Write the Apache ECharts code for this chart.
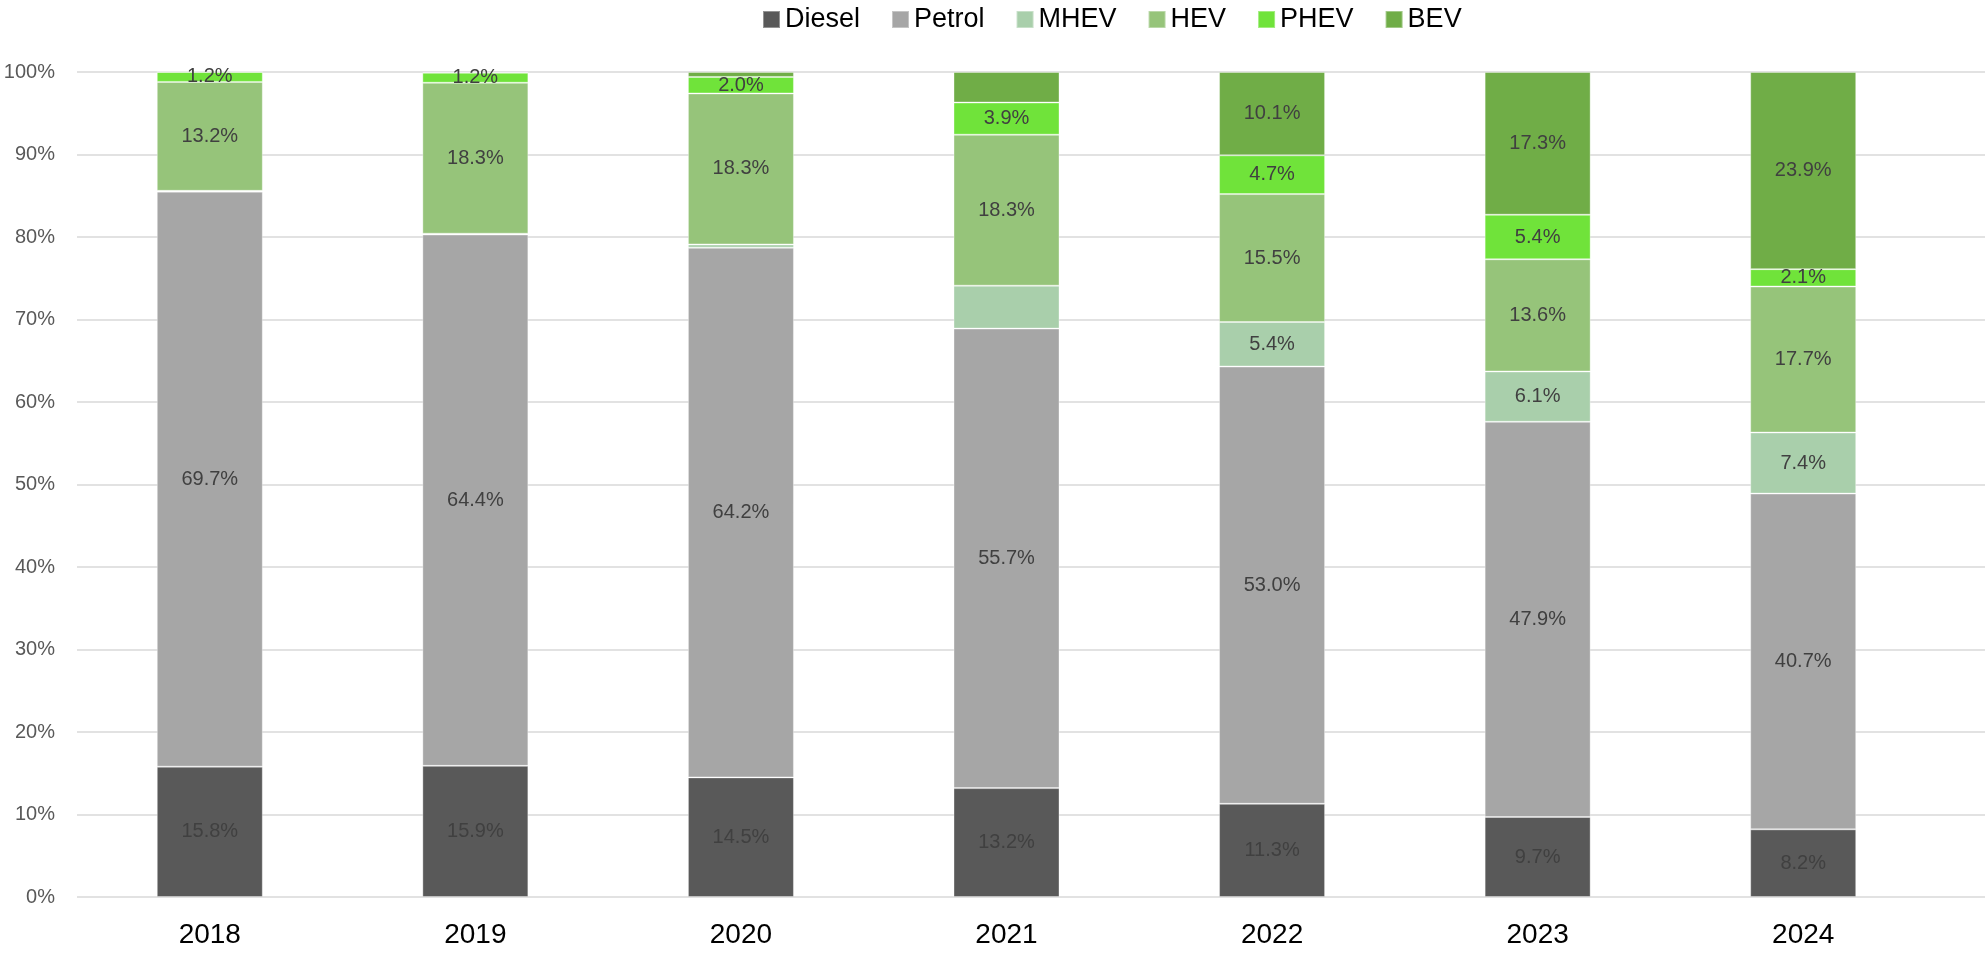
<!DOCTYPE html>
<html>
<head>
<meta charset="utf-8">
<script src="https://cdn.jsdelivr.net/npm/echarts@6/dist/echarts.min.js"></script>
<style>
  html, body { margin: 0; padding: 0; background: #fff; }
  #container { width: 1988px; height: 955px; }
</style>
</head>
<body>
<div id="container"></div>
<script>
  // data (share of registrations, %)
  var years = ['2018', '2019', '2020', '2021', '2022', '2023', '2024'];
  var diesel = [15.8, 15.9, 14.5, 13.2, 11.3, 9.7, 8.2];
  var petrol = [69.7, 64.4, 64.2, 55.7, 53.0, 47.9, 40.7];
  var mhev   = [0.1, 0.1, 0.4, 5.2, 5.4, 6.1, 7.4];
  var hev    = [13.2, 18.3, 18.3, 18.3, 15.5, 13.6, 17.7];
  var phev   = [1.2, 1.2, 2.0, 3.9, 4.7, 5.4, 2.1];
  var bev    = [0.0, 0.1, 0.6, 3.7, 10.1, 17.3, 23.9];
  var yTicks = [0, 10, 20, 30, 40, 50, 60, 70, 80, 90, 100];

  // labels the original leaves off
  var noLabel = { MHEV: [0, 1, 2, 3], BEV: [0, 1, 2, 3] };

  var dom = document.getElementById("container");
  var myChart = echarts.init(dom);
  var font = 'Liberation Sans';

  function makeSeries(name, values, color) {
    var hide = noLabel[name] || [];
    return {
      name: name,
      type: 'bar',
      stack: 'total',
      xAxisIndex: 0,
      yAxisIndex: 0,
      barWidth: 106,
      itemStyle: { color: color, borderColor: 'rgba(255,255,255,0.35)', borderWidth: 1 },
      label: {
        show: true,
        position: 'inside',
        color: '#404040',
        fontFamily: font,
        fontSize: 20,
        formatter: function (p) { return p.value.toFixed(1) + '%'; }
      },
      data: values.map(function (v, i) {
        return hide.indexOf(i) >= 0 ? { value: v, label: { show: false } } : v;
      })
    };
  }

  option = {
    animation: false,
    backgroundColor: '#fff',
    legend: {
      left: 757,
      top: 1,
      itemWidth: 17,
      itemHeight: 17,
      itemGap: 31,
      icon: 'rect',
      textStyle: { fontFamily: font, fontSize: 27, color: '#000' },
      data: ['Diesel', 'Petrol', 'MHEV', 'HEV', 'PHEV', 'BEV']
    },
    grid: [
      { left: 77, right: 52, top: 72, bottom: 58 },
      { left: 77, right: 3, top: 72, bottom: 58 }
    ],
    xAxis: [
      {
        type: 'category',
        gridIndex: 0,
        data: years,
        axisLine: { show: false },
        axisTick: { show: false },
        axisLabel: { fontFamily: font, fontSize: 28, color: '#000', margin: 24 }
      },
      { type: 'category', gridIndex: 1, data: years, show: false }
    ],
    yAxis: [
      {
        type: 'value',
        gridIndex: 0,
        min: yTicks[0],
        max: yTicks[yTicks.length - 1],
        interval: 10,
        splitLine: { show: false },
        axisLine: { show: false },
        axisTick: { show: false },
        axisLabel: { fontFamily: font, fontSize: 20, color: '#595959', margin: 22, formatter: '{value}%' }
      },
      {
        //gridlines run a bit past the last bar
        type: 'value',
        gridIndex: 1,
        min: 0,
        max: 100,
        interval: 10,
        axisLine: { show: false },
        axisTick: { show: false },
        axisLabel: { show: false },
        splitLine: { lineStyle: { color: '#d9d9d9', width: 1.5 } }
      }
    ],
    series: [
      makeSeries('Diesel', diesel, '#595959'),
      makeSeries('Petrol', petrol, '#a6a6a6'),
      makeSeries('MHEV', mhev, '#a9cfab'),
      makeSeries('HEV', hev, '#96c47a'),
      makeSeries('PHEV', phev, '#70e33a'),
      makeSeries('BEV', bev, '#70ad47')
    ]
  };
  if (option && typeof option === "object") {
      myChart.setOption(option, true);
  }
</script>
</body>
</html>
